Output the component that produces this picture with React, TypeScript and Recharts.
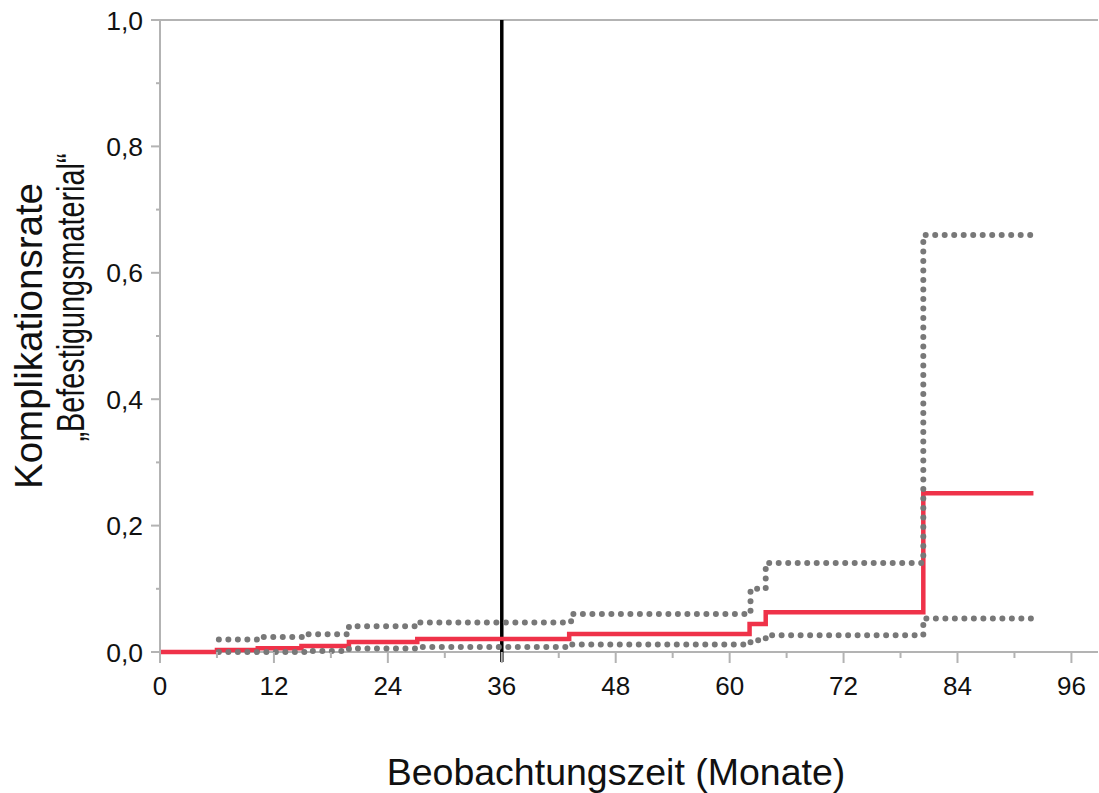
import React from 'react';
import { LineChart, Line, XAxis, YAxis, ReferenceLine, CartesianGrid } from 'recharts';

// Kaplan-Meier style cumulative complication rate (months -> rate)
const rateMonths = [0, 6, 10.3, 14.9, 19.9, 27.1, 43.1, 62.1, 63.8, 80.4, 92];
const rateValues = [0, 0.003, 0.006, 0.0095, 0.016, 0.0206, 0.0285, 0.0444, 0.063, 0.251, 0.251];

// upper confidence bound
const upperMonths = [6.2, 10.5, 15.2, 19.9, 27.0, 43.3, 62.2, 63.8, 80.4, 92];
const upperValues = [0.0197, 0.0238, 0.028, 0.0407, 0.0466, 0.06, 0.1, 0.141, 0.66, 0.66];

// lower confidence bound
const lowerMonths = [6.2, 15.2, 19.9, 27.0, 43.3, 62.2, 63.8, 80.4, 92];
const lowerValues = [0, 0.0016, 0.0054, 0.008, 0.012, 0.0185, 0.0265, 0.053, 0.053];

const xTicks = [0, 6, 12, 18, 24, 30, 36, 42, 48, 54, 60, 66, 72, 78, 84, 90, 96];
const yTicks = [0, 0.1, 0.2, 0.3, 0.4, 0.5, 0.6, 0.7, 0.8, 0.9, 1.0];
const frameValues = [0, 1];
const markerMonth = 36;

const xTitle = 'Beobachtungszeit (Monate)';
const yTitleLines = ['Komplikationsrate', '\u201EBefestigungsmaterial\u201C'];

const toRows = (xs: number[], ys: number[]) => xs.map((m, i) => ({ m, v: ys[i] }));
const rateData = toRows(rateMonths, rateValues);
const upperData = toRows(upperMonths, upperValues);
const lowerData = toRows(lowerMonths, lowerValues);

const FONT = '"Liberation Sans", Arial, Helvetica, sans-serif';
const AXIS = '#b3b3b3';
const RED = '#ef3249';
const GREY = '#787878';

const XTick = (props: any) => {
  const { x, y, payload } = props;
  const v = payload.value;
  const major = Math.round(v) % 12 === 0;
  return (
    <g>
      <line x1={x} x2={x} y1={y} y2={y + (major ? 11 : 6)} stroke={AXIS} strokeWidth={2} />
      {major && (
        <text x={x} y={y + 43} textAnchor="middle" fontFamily={FONT} fontSize={26} fill="#111">
          {String(v)}
        </text>
      )}
    </g>
  );
};

const YTick = (props: any) => {
  const { x, y, payload } = props;
  const v = payload.value;
  const major = Math.round(v * 10) % 2 === 0;
  return (
    <g>
      <line x1={x - (major ? 9 : 4)} x2={x} y1={y} y2={y} stroke={AXIS} strokeWidth={2} />
      {major && (
        <text x={x - 17} y={y + 9.5} textAnchor="end" fontFamily={FONT} fontSize={26.5} fill="#111">
          {v.toFixed(1).replace('.', ',')}
        </text>
      )}
    </g>
  );
};

const YTitle = (props: any) => {
  const vb = props.viewBox || { x: 0, y: 20, width: 160, height: 632 };
  const cy = vb.y + vb.height / 2;
  const x1 = vb.x + 42;
  const x2 = vb.x + 84;
  const c1 = cy;
  const c2 = cy - 38.5;
  return (
    <g>
      <text x={x1} y={c1} transform={`rotate(-90, ${x1}, ${c1})`} textAnchor="middle" fontFamily={FONT} fontSize={38.5} fill="#111">
        {yTitleLines[0]}
      </text>
      <text
        x={x2}
        y={c2}
        transform={`rotate(-90, ${x2}, ${c2})`}
        textAnchor="middle"
        fontFamily={FONT}
        fontSize={38.5}
        fill="#111"
        textLength={288}
        lengthAdjust="spacingAndGlyphs"
      >
        {yTitleLines[1]}
      </text>
    </g>
  );
};

const XTitle = (props: any) => {
  const vb = props.viewBox || { x: 160, y: 652, width: 938, height: 141 };
  return (
    <text x={vb.x + 456} y={vb.y + 133} textAnchor="middle" fontFamily={FONT} fontSize={37.5} fill="#111">
      {xTitle}
    </text>
  );
};

export default function App() {
  return (
    <div style={{ position: 'absolute', left: 0, top: 0, width: 1099, height: 793, background: '#fff' }}>
      <LineChart width={1099} height={793} margin={{ top: 20, right: 1, bottom: 0, left: 0 }}>
        <CartesianGrid vertical={false} horizontalValues={frameValues} stroke={AXIS} strokeWidth={2} />
        <XAxis
          dataKey="m"
          type="number"
          domain={[0, 98.8]}
          ticks={xTicks}
          height={141}
          tickSize={0}
          tickMargin={0}
          tickLine={false}
          axisLine={false}
          tick={<XTick />}
          interval={0}
          label={<XTitle />}
        />
        <YAxis
          dataKey="v"
          type="number"
          domain={[0, 1]}
          ticks={yTicks}
          width={160}
          tickSize={0}
          tickMargin={0}
          tickLine={false}
          axisLine={{ stroke: AXIS, strokeWidth: 2 }}
          tick={<YTick />}
          interval={0}
          label={<YTitle />}
        />
        <ReferenceLine
          segment={[{ x: markerMonth, y: 1 }, { x: markerMonth, y: -0.016 }]}
          stroke="#000"
          strokeWidth={3.5}
          ifOverflow="visible"
        />
        <Line
          data={rateData}
          dataKey="v"
          type="stepAfter"
          stroke={RED}
          strokeWidth={4.5}
          dot={false}
          activeDot={false}
          isAnimationActive={false}
        />
        <Line
          data={upperData}
          dataKey="v"
          type="stepAfter"
          stroke={GREY}
          strokeWidth={6}
          strokeDasharray="0 9.5"
          strokeLinecap="round"
          dot={false}
          activeDot={false}
          isAnimationActive={false}
        />
        <Line
          data={lowerData}
          dataKey="v"
          type="stepAfter"
          stroke={GREY}
          strokeWidth={6}
          strokeDasharray="0 9.5"
          strokeLinecap="round"
          dot={false}
          activeDot={false}
          isAnimationActive={false}
        />
      </LineChart>
    </div>
  );
}
